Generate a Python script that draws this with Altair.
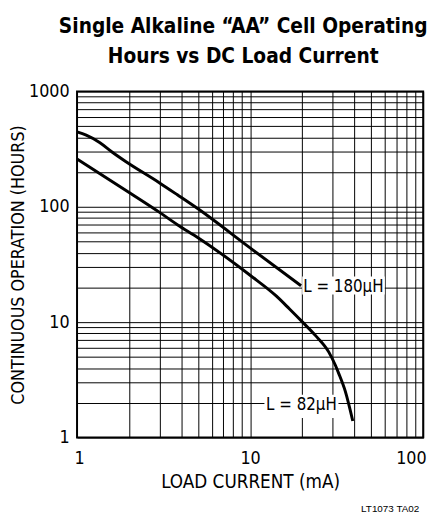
import altair as alt
import pandas as pd

# ---- data ----
x_180 = [1, 1.13, 1.35, 1.6, 1.91, 3, 3.8, 5, 10, 19.7]
y_180 = [446, 418, 361, 297, 247, 161, 127, 96, 44, 20.7]

x_82 = [1, 2, 3, 3.8, 5, 10, 14.2, 16.9, 20.1, 23.9, 28.5, 31.1, 32.5, 35.5, 39.2]
y_82 = [259, 133, 89.4, 70, 54, 25.5, 16.8, 13, 10, 7.64, 5.5, 4.23, 3.6, 2.51, 1.39]

label_text = ["L = 180µH", "L = 82µH"]
label_x = [34.6, 19.8]
label_y = [20, 1.9]
box_x1 = [20, 12.1]
box_x2 = [60, 32.4]
box_y1 = [17.4, 1.48]
box_y2 = [24.9, 2.35]

x_grid = [1, 2, 3, 4, 5, 6, 7, 8, 9, 10, 20, 30, 40, 50, 60, 70, 80, 90, 100]
y_grid = [1, 2, 3, 4, 5, 6, 7, 8, 9, 10, 20, 30, 40, 50, 60, 70, 80, 90,
          100, 200, 300, 400, 500, 600, 700, 800, 900, 1000]

title_lines = ["Single Alkaline \u201cAA\u201d Cell Operating", "Hours vs DC Load Current"]
x_title = "LOAD CURRENT (mA)"
y_title = "CONTINUOUS OPERATION (HOURS)"
footnote = "LT1073 TA02"

FONT = "DejaVu Sans Condensed"

curves = pd.concat([
    pd.DataFrame({"x": x_180, "y": y_180, "s": "180"}),
    pd.DataFrame({"x": x_82, "y": y_82, "s": "82"}),
])
labels = pd.DataFrame({"t": label_text, "x": label_x, "y": label_y,
                       "x1": box_x1, "x2": box_x2, "y1": box_y1, "y2": box_y2})

xscale = alt.Scale(type="log", domain=[1, 100])
yscale = alt.Scale(type="log", domain=[1, 1000])

xaxis = alt.Axis(values=x_grid,
                 labelExpr="(datum.value == 1 || datum.value == 10 || datum.value == 100) ? format(datum.value, 'd') : ''",
                 grid=True, gridColor="black", gridWidth=1, gridOpacity=1,
                 ticks=False, domain=False, labelFlush=True, labelFlushOffset=3,
                 labelOverlap=False,
                 labelFont=FONT, labelFontSize=18, labelColor="black", labelPadding=12,
                 title=x_title, titleFont=FONT, titleFontSize=19, titleFontWeight="normal",
                 titleColor="black", titleY=51, titleBaseline="alphabetic")
yaxis = alt.Axis(values=y_grid,
                 labelExpr="(datum.value == 1 || datum.value == 10 || datum.value == 100 || datum.value == 1000) ? format(datum.value, 'd') : ''",
                 grid=True, gridColor="black", gridWidth=1, gridOpacity=1,
                 ticks=False, domain=False, labelOverlap=False, labelFlush=False,
                 labelFont=FONT, labelFontSize=18, labelColor="black", labelPadding=8,
                 labelBaseline="middle",
                 title=y_title, titleFont=FONT, titleFontSize=18, titleFontWeight="normal",
                 titleColor="black", titleX=-59, titleY=175.5, titleAngle=270,
                 titleAlign="center", titleBaseline="middle")

boxes = alt.Chart(labels).mark_rect(fill="white").encode(
    x=alt.X("x1:Q", scale=xscale, axis=xaxis), x2="x2:Q",
    y=alt.Y("y1:Q", scale=yscale, axis=yaxis), y2="y2:Q")

texts = alt.Chart(labels).mark_text(font=FONT, fontSize=17, color="black",
                                    align="center", baseline="middle").encode(
    x=alt.X("x:Q", scale=xscale), y=alt.Y("y:Q", scale=yscale), text="t:N")

lines = alt.Chart(curves).mark_line(color="black", strokeWidth=3,
                                    interpolate="monotone").encode(
    x=alt.X("x:Q", scale=xscale), y=alt.Y("y:Q", scale=yscale), detail="s:N")

foot = alt.Chart(pd.DataFrame({"t": [footnote]})).mark_text(
    font="Liberation Sans", fontSize=10, color="black",
    align="right", baseline="alphabetic").encode(
    x=alt.value(347), y=alt.value(427), text="t:N")

chart = alt.layer(boxes, texts, lines, foot).properties(
    width=351, height=351,
    padding={"left": 70, "top": 81, "right": 12, "bottom": 76},
    autosize=alt.AutoSizeParams(type="none"),
    title=alt.TitleParams(text=title_lines, font=FONT, fontWeight="bold",
                          fontSize=21, lineHeight=30, anchor="middle",
                          dx=-7, offset=16, color="black"),
).configure_view(stroke="black", strokeWidth=2)

chart.save("out.html", embed_options={"renderer": "svg", "actions": False})
